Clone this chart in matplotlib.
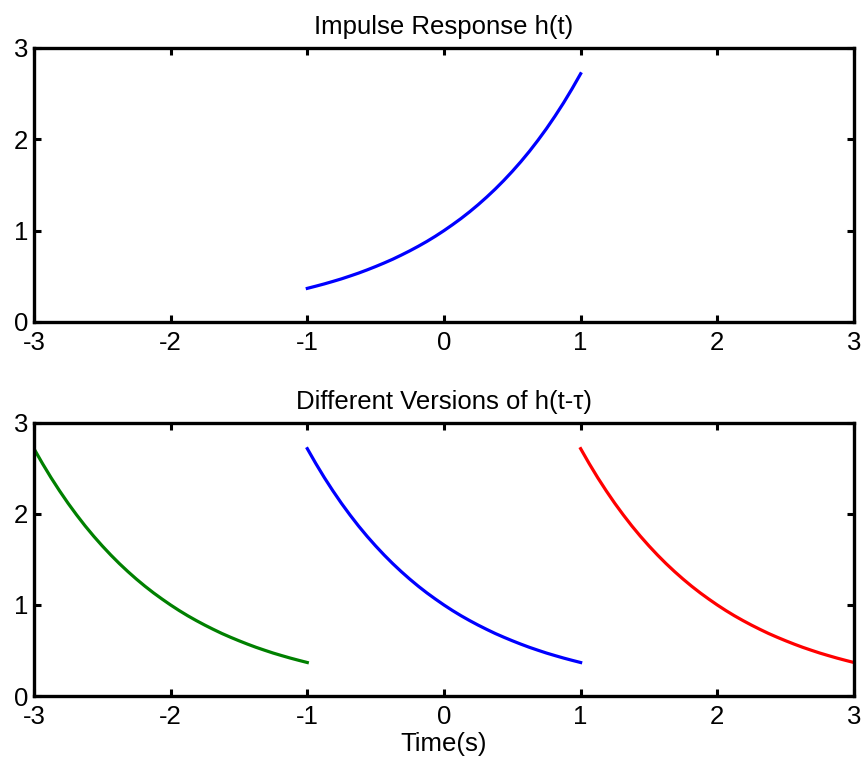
import matplotlib
matplotlib.use('Agg')
import matplotlib.pyplot as plt

plt.rcParams['font.family'] = ['Liberation Sans', 'DejaVu Sans']
plt.rcParams['axes.unicode_minus'] = False

# impulse response samples
t_h = [-1.0, -0.9375, -0.875, -0.8125, -0.75, -0.6875, -0.625, -0.5625,
       -0.5, -0.4375, -0.375, -0.3125, -0.25, -0.1875, -0.125, -0.0625,
       0.0, 0.0625, 0.125, 0.1875, 0.25, 0.3125, 0.375, 0.4375,
       0.5, 0.5625, 0.625, 0.6875, 0.75, 0.8125, 0.875, 0.9375, 1.0]
h_vals = [0.368, 0.392, 0.417, 0.444, 0.472, 0.503, 0.535, 0.570,
          0.607, 0.646, 0.687, 0.732, 0.779, 0.829, 0.882, 0.939,
          1.0, 1.065, 1.133, 1.206, 1.284, 1.367, 1.455, 1.549,
          1.649, 1.755, 1.868, 1.989, 2.117, 2.254, 2.399, 2.554, 2.718]

# shifts for the flipped versions in the bottom panel
taus = [-2, 0, 2]
tau_colors = ['#008000', '#0000ff', '#ff0000']

xticks = [-3, -2, -1, 0, 1, 2, 3]
yticks = [0, 1, 2, 3]

fs = 18.5

fig = plt.figure(figsize=(8.62, 7.59), dpi=100)
ax1 = fig.add_axes([0.0394, 0.5758, 0.9513, 0.3610])
ax2 = fig.add_axes([0.0394, 0.0830, 0.9513, 0.3597])


def style(ax):
    ax.set_xlim(-3, 3)
    ax.set_ylim(0, 3)
    ax.set_xticks(xticks)
    ax.set_yticks(yticks)
    for s in ax.spines.values():
        s.set_linewidth(2.4)
    ax.tick_params(direction='in', length=5, width=2.2, labelsize=fs,
                   top=True, right=True)
    ax.tick_params(axis='x', pad=6.5)
    ax.tick_params(axis='y', pad=4)


ax1.plot(t_h, h_vals, color='#0000ff', lw=2.3)
style(ax1)
ax1.set_title('Impulse Response h(t)', fontsize=fs, pad=10)

for tau, c in zip(taus, tau_colors):
    x = [tau - t for t in t_h]
    ax2.plot(x, h_vals, color=c, lw=2.3)
style(ax2)
ax2.set_title('Different Versions of h(t-\u03c4)', fontsize=fs, pad=10)
ax2.set_xlabel('Time(s)', fontsize=fs, labelpad=2)

fig.savefig('out.png', dpi=100)
